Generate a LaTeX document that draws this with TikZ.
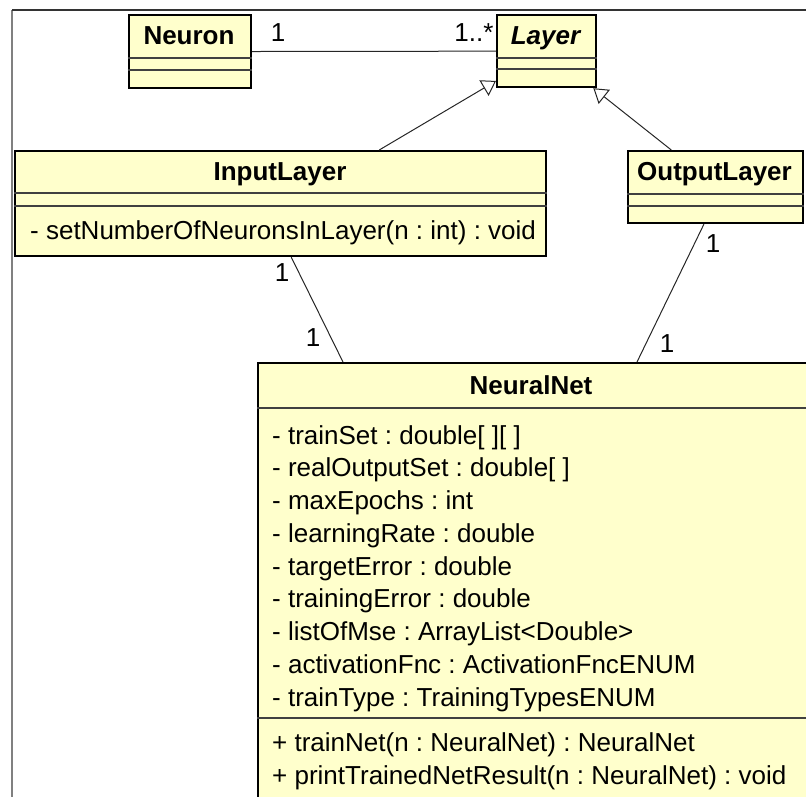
\documentclass[tikz,border=0pt]{standalone}
\usepackage{fontspec}
\setmainfont{Liberation Sans}
\usetikzlibrary{arrows.meta,calc}
\definecolor{umlfill}{HTML}{FFFFCC}
\newcommand{\umlsize}{\fontsize{26}{33}\selectfont}
\frenchspacing

\begin{document}
\begin{tikzpicture}[x=1pt,y=-1pt,
    classbox/.style={draw=black, line width=2.2pt, fill=umlfill, anchor=north west, inner sep=0pt},
    classname/.style={anchor=base, inner sep=0pt, font=\umlsize\bfseries},
    member/.style={anchor=base west, inner sep=0pt, font=\umlsize},
    mult/.style={inner sep=0pt, font=\umlsize},
    sep/.style={draw=black!75, line width=1.2pt},
    assoc/.style={draw=black!85, line width=1pt},
    inherit/.style={assoc, -{Triangle[open, length=14pt, width=18pt]}}]
  \useasboundingbox (0,0) rectangle (806,797);
  \clip (0,0) rectangle (806,797);

  % Frame
  \draw[gray, line width=2pt] (12,797) -- (12,10);
  \draw[black!80, line width=1.5pt] (12,10) -- (806,10);

  % Neuron and Layer
  \node[classbox, minimum width=122.5pt, minimum height=73pt] (neuron) at (127.5,14) {};
  \node[classname] (neurontitle) at (189,45) {Neuron};
  \draw[sep] ($(neuron.north west)+(0,44)$) -- ($(neuron.north east)+(0,44)$);
  \draw[sep] ($(neuron.north west)+(0,56)$) -- ($(neuron.north east)+(0,56)$);

  \node[classbox, minimum width=99pt, minimum height=72pt] (layer) at (496,14) {};
  \node[classname, font=\umlsize\bfseries\itshape] (layertitle) at (545.5,45) {Layer};
  \draw[sep] ($(layer.north west)+(0,44)$) -- ($(layer.north east)+(0,44)$);
  \draw[sep] ($(layer.north west)+(0,55)$) -- ($(layer.north east)+(0,55)$);

  % InputLayer
  \node[classbox, minimum width=531pt, minimum height=105pt] (inputlayer) at (14,150) {};
  \node[classname] (inputtitle) at (280,180.5) {InputLayer};
  \draw[sep] ($(inputlayer.north west)+(0,43)$) -- ($(inputlayer.north east)+(0,43)$);
  \draw[sep] ($(inputlayer.north west)+(0,56)$) -- ($(inputlayer.north east)+(0,56)$);
  \node[member] (setneurons) at (30,239.5) {- setNumberOfNeuronsInLayer(n : int) : void};

  % OutputLayer
  \node[classbox, minimum width=175pt, minimum height=72pt] (outputlayer) at (627,150) {};
  \node[classname] (outputtitle) at (714.5,181) {OutputLayer};
  \draw[sep] ($(outputlayer.north west)+(0,44)$) -- ($(outputlayer.north east)+(0,44)$);
  \draw[sep] ($(outputlayer.north west)+(0,56)$) -- ($(outputlayer.north east)+(0,56)$);

  % NeuralNet
  \node[classbox, minimum width=553pt, minimum height=460pt] (neuralnet) at (257,362) {};
  \node[classname] (neuraltitle) at (531,394) {NeuralNet};
  \draw[sep] ($(neuralnet.north west)+(0,46)$) -- ($(neuralnet.north east)+(0,46)$);
  \node[member] (trainset) at (272,444) {- trainSet : double[ ][ ]};
  \node[member] (realoutput) at (272,476.75) {- realOutputSet : double[ ]};
  \node[member] (maxepochs) at (272,509.5) {- maxEpochs : int};
  \node[member] (learnrate) at (272,542.25) {- learningRate : double};
  \node[member] (targeterror) at (272,575) {- targetError : double};
  \node[member] (trainerror) at (272,607.75) {- trainingError : double};
  \node[member] (listmse) at (272,640.5) {- listOfMse : ArrayList<Double>};
  \node[member] (actfnc) at (272,673.25) {- activationFnc : ActivationFncENUM};
  \node[member] (traintype) at (272,706) {- trainType : TrainingTypesENUM};
  \draw[sep] ($(neuralnet.north west)+(0,356)$) -- ($(neuralnet.north east)+(0,356)$);
  \node[member] (trainnet) at (272,751) {+ trainNet(n : NeuralNet) : NeuralNet};
  \node[member] (printresult) at (272,784) {+ printTrainedNetResult(n : NeuralNet) : void};

  % Neuron -- Layer association
  \draw[assoc] (neuron) -- (layer);
  \node[mult] (neuronmult) at (278,33) {1};
  \node[mult] (layermult) at (474,33) {1..*};

  % Generalisations
  \coordinate (ilstart) at ($(inputlayer.north west)!0.685!(inputlayer.north east)$);
  \coordinate (olstart) at ($(outputlayer.north west)!0.25!(outputlayer.north east)$);
  \draw[inherit] (ilstart) -- (layer);
  \draw[inherit] (olstart) -- (layer);

  % Layers -- NeuralNet associations
  \coordinate (ilbottom) at ($(inputlayer.south west)!0.52!(inputlayer.south east)$);
  \coordinate (olbottom) at ($(outputlayer.south west)!0.434!(outputlayer.south east)$);
  \coordinate (nnleft) at ($(neuralnet.north west)+(86,0)$);
  \coordinate (nnright) at ($(neuralnet.north west)+(380,0)$);
  \draw[assoc] (ilbottom) -- (nnleft);
  \draw[assoc] (olbottom) -- (nnright);
  \node[mult] (ilmult) at (282,273) {1};
  \node[mult] (nnmultl) at (313,338) {1};
  \node[mult] (olmult) at (713,244) {1};
  \node[mult] (nnmultr) at (667,344) {1};
\end{tikzpicture}
\end{document}
